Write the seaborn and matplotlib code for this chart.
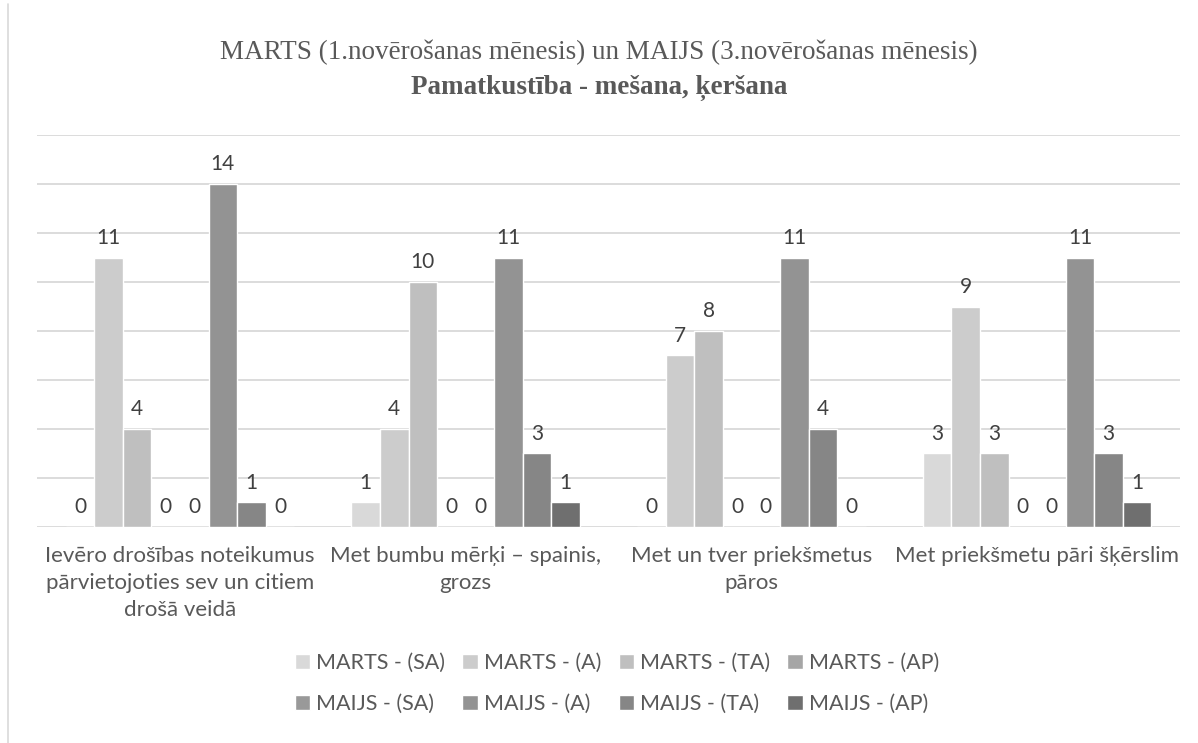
import numpy as np
import pandas as pd
import seaborn as sns
import matplotlib.pyplot as plt
from matplotlib.lines import Line2D

# chart data
categories = [
    "Ievēro drošības noteikumus\npārvietojoties sev un citiem\ndrošā veidā",
    "Met bumbu mērķi – spainis,\ngrozs",
    "Met un tver priekšmetus\npāros",
    "Met priekšmetu pāri šķērslim",
]
series = [
    "MARTS - (SA)", "MARTS - (A)", "MARTS - (TA)", "MARTS - (AP)",
    "MAIJS - (SA)", "MAIJS - (A)", "MAIJS - (TA)", "MAIJS - (AP)",
]
marts_sa = [0, 1, 0, 3]
marts_a = [11, 4, 7, 9]
marts_ta = [4, 10, 8, 3]
marts_ap = [0, 0, 0, 0]
maijs_sa = [0, 0, 0, 0]
maijs_a = [14, 11, 11, 11]
maijs_ta = [1, 3, 4, 3]
maijs_ap = [0, 1, 0, 1]
colors = ["#d9d9d9", "#cccccc", "#bfbfbf", "#a6a6a6",
          "#999999", "#939393", "#868686", "#6f6f6f"]

values = [marts_sa, marts_a, marts_ta, marts_ap, maijs_sa, maijs_a, maijs_ta, maijs_ap]
rows = []
for name, vals in zip(series, values):
    for cat, v in zip(categories, vals):
        rows.append({"category": cat, "series": name, "value": v})
df = pd.DataFrame(rows)

sns.set_style("white")
plt.rcParams["font.family"] = ["Lato", "DejaVu Sans"]
text_color = "#595959"

fig = plt.figure(figsize=(11.98, 7.43), dpi=100)
ax = fig.add_axes([0.031, 0.291, 0.954, 0.527])

sns.barplot(
    data=df, x="category", y="value", hue="series",
    order=categories, hue_order=series, palette=colors,
    width=0.8, gap=0, saturation=1, ax=ax, errorbar=None,
)

for cont in ax.containers:
    ax.bar_label(cont, fmt="%d", padding=7, fontsize=15, color="#404040")

ax.set_ylim(0, 16)
ax.set_yticks(np.arange(0, 17, 2))
ax.yaxis.grid(True, color="#d9d9d9", linewidth=1.3)
ax.set_axisbelow(True)
ax.tick_params(axis="y", left=False, labelleft=False)
ax.tick_params(axis="x", bottom=False, labelsize=16, colors=text_color, pad=10)
for lbl in ax.get_xticklabels():
    lbl.set_linespacing(1.45)
for s in ax.spines.values():
    s.set_visible(False)
ax.set_xlabel("")
ax.set_ylabel("")

# legend: first row MARTS, second row MAIJS
handles, labels = ax.get_legend_handles_labels()
order = [0, 4, 1, 5, 2, 6, 3, 7]
ax.legend(
    [handles[i] for i in order], [labels[i] for i in order],
    ncol=4, loc="center", bbox_to_anchor=(0.515, 0.08),
    bbox_transform=fig.transFigure, frameon=False,
    fontsize=15.5, labelcolor=text_color, handlelength=0.7, handleheight=0.7,
    handletextpad=0.3, columnspacing=0.8, labelspacing=1.0,
)

fig.text(0.5, 0.93, "MARTS (1.novērošanas mēnesis) un MAIJS (3.novērošanas mēnesis)",
         ha="center", va="center", fontsize=19.5, color=text_color,
         family=["Liberation Serif", "DejaVu Serif"])
fig.text(0.5, 0.882, "Pamatkustība - mešana, ķeršana",
         ha="center", va="center", fontsize=19.5, color=text_color, fontweight="bold",
         family=["Liberation Serif", "DejaVu Serif"])

fig.add_artist(Line2D([0.007, 0.007], [0.0, 0.995], color="#d9d9d9", linewidth=1.2))

fig.savefig("out.png", dpi=100)
